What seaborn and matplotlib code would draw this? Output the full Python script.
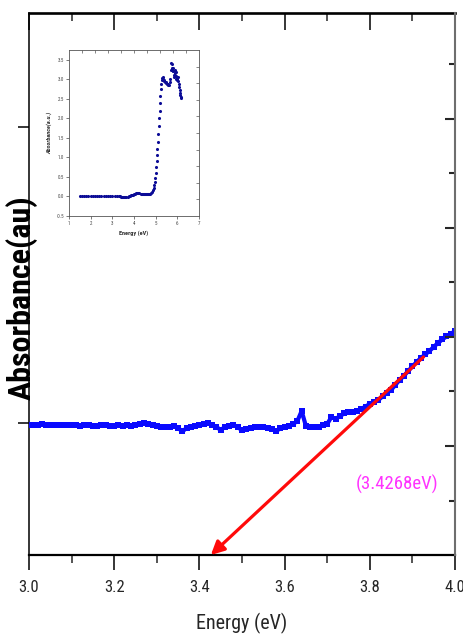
import matplotlib
matplotlib.use("Agg")
import matplotlib.pyplot as plt
from matplotlib import font_manager
from matplotlib.ticker import MultipleLocator, FixedLocator, NullFormatter, FormatStrFormatter
from matplotlib.lines import TICKDOWN
import pandas as pd
import seaborn as sns

# ---- main panel: absorbance near the band edge ----
energy = [3.00, 3.01, 3.02, 3.03, 3.04, 3.05, 3.06, 3.07, 3.08, 3.09,
          3.10, 3.11, 3.12, 3.13, 3.14, 3.15, 3.16, 3.17, 3.18, 3.19,
          3.20, 3.21, 3.22, 3.23, 3.24, 3.25, 3.26, 3.27, 3.28, 3.29,
          3.30, 3.31, 3.32, 3.33, 3.34, 3.35, 3.36, 3.37, 3.38, 3.39,
          3.40, 3.41, 3.42, 3.43, 3.44, 3.45, 3.46, 3.47, 3.48, 3.49,
          3.50, 3.51, 3.52, 3.53, 3.54, 3.55, 3.56, 3.57, 3.58, 3.59,
          3.60, 3.61, 3.62, 3.63, 3.64, 3.65, 3.66, 3.67, 3.68, 3.69,
          3.70, 3.71, 3.72, 3.73, 3.74, 3.75, 3.76, 3.77, 3.78, 3.79,
          3.80, 3.81, 3.82, 3.83, 3.84, 3.85, 3.86, 3.87, 3.88, 3.89,
          3.90, 3.91, 3.92, 3.93, 3.94, 3.95, 3.96, 3.97, 3.98, 3.99, 4.00]
absorbance = [-0.00084, -0.00084, -0.00068, -0.00034, -0.00068, -0.00084, -0.00084, -0.00084, -0.00084, -0.00068,
              -0.00084, -0.00084, -0.00101, -0.00084, -0.00084, -0.00101, -0.00101, -0.00084, -0.00068, -0.00101,
              -0.00101, -0.00084, -0.00101, -0.00084, -0.00101, -0.00068, -0.00034, 0.00000, -0.00034, -0.00068,
              -0.00101, -0.00135, -0.00152, -0.00135, -0.00118, -0.00169, -0.00287, -0.00169, -0.00135, -0.00101,
              -0.00068, -0.00034, 0.00000, -0.00068, -0.00135, -0.00236, -0.00135, -0.00101, -0.00068, -0.00135,
              -0.00253, -0.00203, -0.00169, -0.00152, -0.00135, -0.00152, -0.00169, -0.00203, -0.00270, -0.00186,
              -0.00152, -0.00101, -0.00034, 0.00068, 0.00405, -0.00101, -0.00152, -0.00152, -0.00135, -0.00084,
              -0.00034, 0.00203, 0.00135, 0.00236, 0.00321, 0.00355, 0.00372, 0.00405, 0.00473, 0.00557,
              0.00642, 0.00693, 0.00777, 0.00895, 0.01014, 0.01115, 0.01284, 0.01453, 0.01588, 0.01757,
              0.01909, 0.02061, 0.02196, 0.02314, 0.02432, 0.02568, 0.02703, 0.02821, 0.02922, 0.03007, 0.03108]

# linear fit of the absorption edge, extrapolated to the energy axis
fit_energy = [3.926, 3.4268]
fit_absorbance = [0.0223, -0.0446]
gap_label = "(3.4268eV)"

# ---- inset: full spectrum ----
inset_energy = [1.50, 1.60, 1.70, 1.80, 1.90, 2.00, 2.10, 2.20, 2.30, 2.40,
                2.50, 2.60, 2.70, 2.80, 2.90, 3.00, 3.10, 3.20, 3.30,
                3.35, 3.40, 3.45, 3.50, 3.55, 3.60, 3.65, 3.70, 3.75, 3.80,
                3.85, 3.90, 3.95, 4.00, 4.05, 4.10, 4.15, 4.20, 4.25, 4.30,
                4.35, 4.40, 4.45, 4.50, 4.55, 4.60, 4.65, 4.70, 4.75, 4.80, 4.85,
                4.88, 4.91, 4.94, 4.96, 4.98, 5.00, 5.02, 5.04, 5.06, 5.08,
                5.10, 5.12, 5.14, 5.16, 5.18, 5.20, 5.22, 5.24, 5.26, 5.28,
                5.30, 5.32, 5.34, 5.37, 5.40, 5.43, 5.46, 5.49, 5.52, 5.55,
                5.58, 5.61, 5.64, 5.67, 5.70, 5.72, 5.74, 5.76, 5.78, 5.80,
                5.82, 5.84, 5.86, 5.88, 5.90, 5.92, 5.94, 5.96, 5.98, 6.00,
                6.02, 6.04, 6.06, 6.08, 6.10, 6.12, 6.14, 6.16, 6.18]
inset_absorbance = [0.01, 0.01, 0.01, 0.01, 0.01, 0.01, 0.01, 0.01, 0.01, 0.01,
                    0.01, 0.01, 0.01, 0.01, 0.01, 0.01, 0.01, 0.01, 0.00,
                    0.00, -0.01, -0.02, -0.02, -0.02, -0.02, -0.01, -0.01, 0.00, 0.01,
                    0.03, 0.04, 0.05, 0.06, 0.07, 0.08, 0.085, 0.085, 0.08, 0.075,
                    0.075, 0.07, 0.07, 0.07, 0.065, 0.06, 0.055, 0.055, 0.06, 0.08, 0.12,
                    0.16, 0.22, 0.30, 0.38, 0.48, 0.60, 0.75, 0.90, 1.05, 1.22,
                    1.40, 1.60, 1.80, 2.00, 2.20, 2.40, 2.58, 2.75, 2.88, 2.98,
                    3.04, 3.05, 3.02, 2.98, 2.95, 2.93, 2.92, 2.90, 2.88, 2.87,
                    2.86, 2.86, 2.92, 3.02, 3.25, 3.42, 3.38, 3.30, 3.22, 3.28,
                    3.20, 3.12, 3.05, 3.15, 3.25, 3.18, 3.08, 3.00, 2.98, 3.02,
                    3.05, 2.95, 2.88, 2.80, 2.72, 2.66, 2.60, 2.55, 2.52]

main_df = pd.DataFrame({"Energy (eV)": energy, "Absorbance": absorbance})
inset_df = pd.DataFrame({"Energy (eV)": inset_energy, "Absorbance": inset_absorbance})

sns.set_style("ticks")
available = {f.name for f in font_manager.fontManager.ttflist}
narrow = next((n for n in ("Liberation Sans Narrow", "DejaVu Sans Condensed",
                           "Roboto Condensed", "Open Sans Condensed",
                           "Noto Sans Condensed", "Liberation Sans")
               if n in available), "DejaVu Sans")
plt.rcParams["font.family"] = [narrow, "DejaVu Sans"]
plt.rcParams["axes.unicode_minus"] = False
# condensed look for the main labels when only regular widths exist
squeeze = narrow in ("Liberation Sans", "DejaVu Sans")

fig = plt.figure(figsize=(4.64, 6.37), dpi=100)
ax = fig.add_axes([0.0625, 0.1287, 0.9181, 0.8509])

sns.lineplot(data=main_df, x="Energy (eV)", y="Absorbance", ax=ax,
             marker="s", markersize=4.2, markeredgewidth=0, color="#0a0aff",
             linewidth=3.0, zorder=3)

ylo, yhi = -0.0446, 0.1385
ax.set_xlim(3.0, 4.0)
ax.set_ylim(ylo, yhi)

# fitted edge with arrow down to the intercept
ax.annotate("", xy=(fit_energy[1], fit_absorbance[1]),
            xytext=(fit_energy[0], fit_absorbance[0]),
            arrowprops=dict(arrowstyle="-|>", color="#ff0a0a", lw=2.3,
                            mutation_scale=20, shrinkA=0, shrinkB=0),
            annotation_clip=False, zorder=4)
ax.text(3.863, -0.0208, gap_label, color="#ff33ff",
        fontsize=12.5 if squeeze else 13.5, ha="center", va="center")

# axes and ticks
ax.xaxis.set_major_locator(MultipleLocator(0.2))
ax.xaxis.set_minor_locator(MultipleLocator(0.1))
ax.xaxis.set_major_formatter(FormatStrFormatter("%.1f"))
ax.yaxis.set_major_locator(FixedLocator([0.0, 0.1]))
ax.yaxis.set_major_formatter(NullFormatter())
ax.tick_params(axis="x", which="major", direction="out", length=11, width=1.3,
               labelsize=11 if squeeze else 12, pad=7, top=True, bottom=True)
ax.tick_params(axis="x", which="minor", direction="out", length=6, width=1.1,
               top=True, bottom=True)
ax.tick_params(axis="x", which="both", labeltop=False)
for t in ax.xaxis.get_major_ticks() + ax.xaxis.get_minor_ticks():
    t.tick2line.set_marker(TICKDOWN)
for t in ax.xaxis.get_major_ticks():
    t.tick2line.set_markersize(12)
for t in ax.xaxis.get_minor_ticks():
    t.tick2line.set_markersize(6)
ax.tick_params(axis="y", which="major", direction="out", length=8, width=1.3,
               left=True, right=False)
ax.spines["top"].set_linewidth(1.9)
ax.spines["bottom"].set_linewidth(1.6)
ax.spines["left"].set_linewidth(1.1)
ax.spines["right"].set_visible(False)
for s in ("top", "bottom", "left"):
    ax.spines[s].set_color("black")

ax.set_xlabel("Energy (eV)", fontsize=13.5 if squeeze else 14.5, labelpad=13)
ax.set_ylabel("")
fig.text(0.047, 0.533, "Absorbance(au)", rotation=90,
         fontsize=21 if squeeze else 23,
         fontweight="heavy", color="black", ha="center", va="center")

# right-hand frame with its own tick spacing
axr = ax.twinx()
axr.set_ylim(0, 4.972)
axr.yaxis.set_major_locator(FixedLocator([1, 2, 3, 4]))
axr.yaxis.set_minor_locator(FixedLocator([0.5, 1.5, 2.5, 3.5, 4.5]))
axr.yaxis.set_major_formatter(NullFormatter())
axr.tick_params(axis="y", which="major", direction="in", length=7, width=1.5)
axr.tick_params(axis="y", which="minor", direction="in", length=4, width=1.5)
for s in ("top", "bottom", "left"):
    axr.spines[s].set_visible(False)
axr.spines["right"].set_color("#6e6e6e")
axr.spines["right"].set_linewidth(1.5)

# ---- inset ----
axi = fig.add_axes([0.1487, 0.6609, 0.2802, 0.2606])
sns.scatterplot(data=inset_df, x="Energy (eV)", y="Absorbance", ax=axi,
                marker="o", s=5, color="#0b0b96", linewidth=0)
axi.set_xlim(1, 7)
axi.set_ylim(-0.5, 3.75)
axi.xaxis.set_major_locator(MultipleLocator(1))
axi.yaxis.set_major_locator(MultipleLocator(0.5))
axi.yaxis.set_major_formatter(FormatStrFormatter("%.1f"))
axi.tick_params(which="major", direction="out", length=2, width=0.5,
                labelsize=3.6, pad=1.5, colors="#444444")
axi.set_xlabel("Energy (eV)", fontsize=4.5, fontweight="bold", labelpad=3,
               color="#333333")
axi.set_ylabel("Absorbance(a.u.)", fontsize=4.5, fontweight="bold",
               fontstyle="italic", labelpad=3, color="#333333")
for s in axi.spines.values():
    s.set_linewidth(0.6)
    s.set_color("#555555")

# inset top and right frame ticks
axit = axi.twiny()
axit.set_xlim(0, 10)
axit.xaxis.set_major_locator(FixedLocator(range(1, 10)))
axit.xaxis.set_major_formatter(NullFormatter())
axit.tick_params(axis="x", direction="in", length=2, width=0.5, colors="#555555")
axir = axi.twinx()
axir.set_ylim(0, 10)
axir.yaxis.set_major_locator(FixedLocator(range(1, 10)))
axir.yaxis.set_major_formatter(NullFormatter())
axir.tick_params(axis="y", direction="in", length=2, width=0.5, colors="#555555")
for a in (axit, axir):
    for s in a.spines.values():
        s.set_visible(False)

fig.savefig("out.png", dpi=100)
